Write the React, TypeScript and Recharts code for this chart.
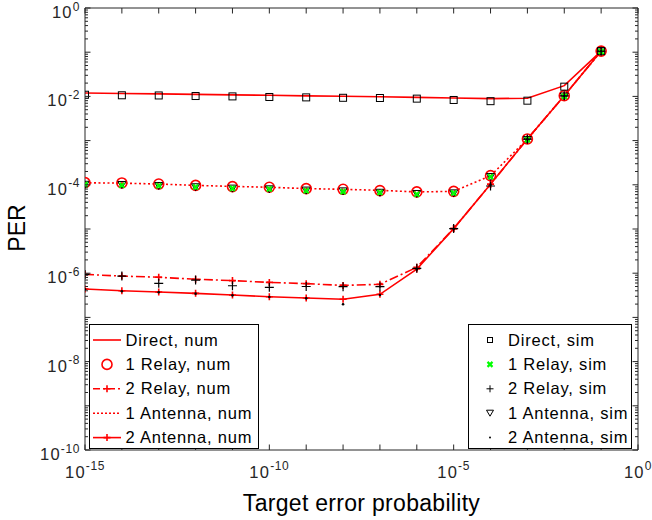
import React from "react";
import { Line, LineChart, XAxis, YAxis } from "recharts";

const RED = "#ff0000";
const GREEN = "#00ff00";
const INK = "#262626";
const FONT = '"Liberation Sans", Arial, Helvetica, sans-serif';

// target error probability (x)
const TARGET = [
  1e-15, 1e-14, 1e-13, 1e-12, 1e-11, 1e-10, 1e-9, 1e-8, 1e-7, 1e-6, 1e-5, 1e-4, 1e-3, 1e-2, 1e-1,
];

// packet error rate per scheme, numerical and simulated
const DIRECT_NUM = [
  0.0119, 0.0116, 0.0114, 0.0111, 0.0108, 0.0106, 0.0103, 0.0101, 0.0098, 0.0095, 0.0092, 0.0089, 0.0091, 0.0175, 0.106,
];
const DIRECT_SIM = [
  0.0109, 0.0106, 0.0105, 0.0102, 0.01, 0.0097, 0.0095, 0.0093, 0.0092, 0.0089, 0.0083, 0.0078, 0.008, 0.0166, 0.106,
];
const RELAY1_NUM = [
  1.12e-4, 1.1e-4, 1.04e-4, 9.7e-5, 9.1e-5, 8.8e-5, 8.2e-5, 7.9e-5, 7.4e-5, 6.9e-5, 7.1e-5, 1.61e-4, 1.09e-3, 1.04e-2, 0.106,
];
const RELAY1_SIM = [
  1.01e-4, 9.8e-5, 9.5e-5, 8.9e-5, 8.3e-5, 8.0e-5, 7.3e-5, 7.0e-5, 6.7e-5, 6.1e-5, 6.5e-5, 1.52e-4, 1.04e-3, 1.0e-2, 0.104,
];
const RELAY2_NUM = [
  9.4e-7, 8.6e-7, 8.1e-7, 7.3e-7, 6.8e-7, 6.2e-7, 5.8e-7, 5.3e-7, 5.6e-7, 1.36e-6, 1.02e-5, 1.03e-4, 1.09e-3, 1.04e-2, 0.106,
];
const RELAY2_SIM = [
  9.4e-7, 8.6e-7, 5.9e-7, 7.0e-7, 5.2e-7, 4.8e-7, 5.0e-7, 4.95e-7, 4.95e-7, 1.29e-6, 1.02e-5, 9.4e-5, 1.08e-3, 1.03e-2, 0.105,
];
const ANT1_NUM = [
  1.11e-4, 1.09e-4, 1.04e-4, 9.7e-5, 9.2e-5, 8.8e-5, 8.2e-5, 7.9e-5, 7.5e-5, 6.9e-5, 7.1e-5, 1.6e-4, 1.08e-3, 1.04e-2, 0.106,
];
const ANT1_SIM = [
  1.0e-4, 9.9e-5, 9.4e-5, 8.8e-5, 8.2e-5, 7.9e-5, 7.4e-5, 7.1e-5, 6.6e-5, 6.2e-5, 6.4e-5, 1.5e-4, 1.03e-3, 9.95e-3, 0.104,
];
const ANT2_NUM = [
  4.4e-7, 4.0e-7, 3.76e-7, 3.5e-7, 3.2e-7, 2.94e-7, 2.75e-7, 2.57e-7, 3.33e-7, 1.24e-6, 1.02e-5, 1.03e-4, 1.09e-3, 1.04e-2, 0.106,
];
const ANT2_SIM = [
  4.3e-7, 3.9e-7, 3.7e-7, 3.45e-7, 3.15e-7, 2.9e-7, 2.7e-7, 1.98e-7, 3.2e-7, 1.22e-6, 1.0e-5, 1.0e-4, 1.07e-3, 1.02e-2, 0.105,
];

const X_TICKS = [
  1e-15, 1e-14, 1e-13, 1e-12, 1e-11, 1e-10, 1e-9, 1e-8, 1e-7, 1e-6, 1e-5, 1e-4, 1e-3, 1e-2, 1e-1, 1,
];
const X_LABEL_EXP = [-15, -10, -5, 0];
const Y_MAJOR = [1e-10, 1e-9, 1e-8, 1e-7, 1e-6, 1e-5, 1e-4, 1e-3, 1e-2, 1e-1, 1];
const Y_LABEL_EXP = [-10, -8, -6, -4, -2, 0];

// log minor ticks 2..9 inside each decade
const Y_TICKS: number[] = [...Y_MAJOR];
for (let e = -10; e < 0; e++) {
  for (let k = 2; k <= 9; k++) Y_TICKS.push(k * Math.pow(10, e));
}

const rows = TARGET.map((x, i) => ({
  x,
  directNum: DIRECT_NUM[i],
  directSim: DIRECT_SIM[i],
  relay1Num: RELAY1_NUM[i],
  relay1Sim: RELAY1_SIM[i],
  relay2Num: RELAY2_NUM[i],
  relay2Sim: RELAY2_SIM[i],
  ant1Num: ANT1_NUM[i],
  ant1Sim: ANT1_SIM[i],
  ant2Num: ANT2_NUM[i],
  ant2Sim: ANT2_SIM[i],
}));

const expOf = (v: number) => Math.log10(v);
const isMajor = (v: number) => Math.abs(expOf(v) - Math.round(expOf(v))) < 1e-6;

function Pow({ x, y, exp, anchor, sup }: { x: number; y: number; exp: number; anchor: string; sup: number }) {
  return (
    <text x={x} y={y} textAnchor={anchor} fill={INK} fontFamily={FONT} fontSize={16.5} letterSpacing={1.2}>
      <tspan>10</tspan>
      <tspan dy={sup} fontSize={12} letterSpacing={0.6}>
        {String(exp)}
      </tspan>
    </text>
  );
}

// ticks point into the plot box; labels sit outside
function BottomTick(props: any) {
  const { x, y, payload } = props;
  const e = Math.round(expOf(payload.value));
  return (
    <g>
      <line x1={x} x2={x} y1={y} y2={y - 5.5} stroke={INK} />
      {X_LABEL_EXP.includes(e) && <Pow x={x} y={y + 28} exp={e} anchor="middle" sup={-8} />}
    </g>
  );
}

function TopTick(props: any) {
  const { x, y } = props;
  return <line x1={x} x2={x} y1={y} y2={y + 5.5} stroke={INK} />;
}

function LeftTick(props: any) {
  const { x, y, payload } = props;
  const major = isMajor(payload.value);
  const e = Math.round(expOf(payload.value));
  return (
    <g>
      <line x1={x} x2={x + (major ? 5.5 : 3)} y1={y} y2={y} stroke={INK} />
      {major && Y_LABEL_EXP.includes(e) && <Pow x={x - 5} y={y + 10} exp={e} anchor="end" sup={-7.5} />}
    </g>
  );
}

function RightTick(props: any) {
  const { x, y, payload } = props;
  const major = isMajor(payload.value);
  return <line x1={x} x2={x - (major ? 5.5 : 3)} y1={y} y2={y} stroke={INK} />;
}

// marker shapes
type M = { cx: number; cy: number };
const Square = ({ cx, cy }: M) => (
  <rect x={cx - 3.5} y={cy - 3.5} width={7} height={7} fill="none" stroke="#000" strokeWidth={1} />
);
const Ring = ({ cx, cy }: M) => <circle cx={cx} cy={cy} r={5} fill="none" stroke={RED} strokeWidth={1.6} />;
const GreenX = ({ cx, cy }: M) => (
  <path d={`M${cx - 2.5},${cy - 2.5}L${cx + 2.5},${cy + 2.5}M${cx - 2.5},${cy + 2.5}L${cx + 2.5},${cy - 2.5}`} stroke={GREEN} strokeWidth={2.2} />
);
const BlackPlus = ({ cx, cy }: M) => (
  <path d={`M${cx - 4.5},${cy}L${cx + 4.5},${cy}M${cx},${cy - 4.5}L${cx},${cy + 4.5}`} stroke="#000" strokeWidth={1.2} />
);
const RedPlus = ({ cx, cy }: M) => (
  <path d={`M${cx - 3.5},${cy}L${cx + 3.5},${cy}M${cx},${cy - 3.5}L${cx},${cy + 3.5}`} stroke={RED} strokeWidth={1.6} />
);
const TriDown = ({ cx, cy }: M) => (
  <path d={`M${cx - 4},${cy - 3.5}L${cx + 4},${cy - 3.5}L${cx},${cy + 3.5}Z`} fill="none" stroke="#000" strokeWidth={1} />
);
const Dot = ({ cx, cy }: M) => <circle cx={cx} cy={cy} r={1.3} fill="#000" />;

const dotWith = (Shape: (m: M) => React.ReactElement) => (p: any) => {
  if (p.cx == null || p.cy == null) return <g key={p.index} />;
  return (
    <g key={p.index}>
      <Shape cx={p.cx} cy={p.cy} />
    </g>
  );
};

type Entry = { label: string; sample: (cx: number, cy: number) => React.ReactNode };

const NUM_ENTRIES: Entry[] = [
  { label: "Direct, num", sample: (cx, cy) => <line x1={cx - 14} x2={cx + 14} y1={cy} y2={cy} stroke={RED} strokeWidth={1.6} /> },
  { label: "1 Relay, num", sample: (cx, cy) => <Ring cx={cx} cy={cy} /> },
  {
    label: "2 Relay, num",
    sample: (cx, cy) => (
      <g>
        <line x1={cx - 14} x2={cx + 14} y1={cy} y2={cy} stroke={RED} strokeWidth={1.6} strokeDasharray="7 3 2 3" />
        <RedPlus cx={cx} cy={cy} />
      </g>
    ),
  },
  { label: "1 Antenna, num", sample: (cx, cy) => <line x1={cx - 14} x2={cx + 14} y1={cy} y2={cy} stroke={RED} strokeWidth={1.6} strokeDasharray="2 2" /> },
  {
    label: "2 Antenna, num",
    sample: (cx, cy) => (
      <g>
        <line x1={cx - 14} x2={cx + 14} y1={cy} y2={cy} stroke={RED} strokeWidth={1.6} />
        <RedPlus cx={cx} cy={cy} />
      </g>
    ),
  },
];

const SIM_ENTRIES: Entry[] = [
  { label: "Direct, sim", sample: (cx, cy) => <rect x={cx - 2.5} y={cy - 2.5} width={5} height={5} fill="none" stroke="#000" /> },
  { label: "1 Relay, sim", sample: (cx, cy) => <GreenX cx={cx} cy={cy} /> },
  { label: "2 Relay, sim", sample: (cx, cy) => <path d={`M${cx - 3.5},${cy}L${cx + 3.5},${cy}M${cx},${cy - 3.5}L${cx},${cy + 3.5}`} stroke="#000" /> },
  { label: "1 Antenna, sim", sample: (cx, cy) => <path d={`M${cx - 3.5},${cy - 3}L${cx + 3.5},${cy - 3}L${cx},${cy + 3}Z`} fill="none" stroke="#000" /> },
  { label: "2 Antenna, sim", sample: (cx, cy) => <circle cx={cx} cy={cy} r={1} fill="#000" /> },
];

function LegendBox({ left, top, width, entries, sampleX, textX }: { left: number; top: number; width: number; entries: Entry[]; sampleX: number; textX: number }) {
  const height = 125;
  return (
    <svg style={{ position: "absolute", left, top, overflow: "visible" }} width={width} height={height}>
      <rect x={0.5} y={0.5} width={width - 1} height={height - 1} fill="#fff" stroke="#000" />
      {entries.map((en, i) => {
        const cy = 16 + i * 24.4;
        return (
          <g key={en.label}>
            {en.sample(sampleX, cy)}
            <text x={textX} y={cy + 5.5} fontFamily={FONT} fontSize={16.5} letterSpacing={0.8} fill="#000">
              {en.label}
            </text>
          </g>
        );
      })}
    </svg>
  );
}

export default function App() {
  const axisCommon = {
    type: "number" as const,
    scale: "log" as const,
    allowDataOverflow: true,
    interval: 0 as const,
    tickLine: false,
    tickSize: 0,
    tickMargin: 0,
    axisLine: { stroke: INK, strokeWidth: 1 },
  };
  return (
    <div style={{ position: "absolute", left: 0, top: 0, width: 652, height: 520, background: "#fff" }}>
      <LineChart width={652} height={520} data={rows} margin={{ top: 0, right: 0, bottom: 0, left: 0 }}>
        <XAxis {...axisCommon} dataKey="x" domain={[1e-15, 1]} ticks={X_TICKS} height={70} tick={<BottomTick />} />
        <XAxis {...axisCommon} xAxisId="top" orientation="top" dataKey="x" domain={[1e-15, 1]} ticks={X_TICKS} height={8} tick={<TopTick />} />
        <YAxis {...axisCommon} domain={[1e-10, 1]} ticks={Y_TICKS} width={85} tick={<LeftTick />} />
        <YAxis {...axisCommon} yAxisId="right" orientation="right" domain={[1e-10, 1]} ticks={Y_TICKS} width={14} tick={<RightTick />} />

        <Line dataKey="directNum" stroke={RED} strokeWidth={1.6} dot={false} activeDot={false} isAnimationActive={false} />
        <Line dataKey="relay2Num" stroke={RED} strokeWidth={1.6} strokeDasharray="9 3 2 3" dot={dotWith(RedPlus)} activeDot={false} isAnimationActive={false} />
        <Line dataKey="ant1Num" stroke={RED} strokeWidth={1.6} strokeDasharray="2 2.5" dot={false} activeDot={false} isAnimationActive={false} />
        <Line dataKey="ant2Num" stroke={RED} strokeWidth={1.6} dot={dotWith(RedPlus)} activeDot={false} isAnimationActive={false} />
        <Line dataKey="relay1Num" stroke="none" dot={dotWith(Ring)} activeDot={false} isAnimationActive={false} />
        <Line dataKey="directSim" stroke="none" dot={dotWith(Square)} activeDot={false} isAnimationActive={false} />
        <Line dataKey="ant1Sim" stroke="none" dot={dotWith(TriDown)} activeDot={false} isAnimationActive={false} />
        <Line dataKey="relay1Sim" stroke="none" dot={dotWith(GreenX)} activeDot={false} isAnimationActive={false} />
        <Line dataKey="relay2Sim" stroke="none" dot={dotWith(BlackPlus)} activeDot={false} isAnimationActive={false} />
        <Line dataKey="ant2Sim" stroke="none" dot={dotWith(Dot)} activeDot={false} isAnimationActive={false} />
      </LineChart>

      <LegendBox left={89} top={324} width={170} entries={NUM_ENTRIES} sampleX={18} textX={36.5} />
      <LegendBox left={468} top={324} width={164} entries={SIM_ENTRIES} sampleX={22} textX={40} />

      <svg style={{ position: "absolute", left: 0, top: 0, pointerEvents: "none" }} width={652} height={520}>
        <text x={25} y={228} transform="rotate(-90 25 228)" textAnchor="middle" fontFamily={FONT} fontSize={23} fill="#000">
          PER
        </text>
        <text x={361.5} y={511} textAnchor="middle" fontFamily={FONT} fontSize={23} letterSpacing={0.3} fill="#000">
          Target error probability
        </text>
      </svg>
    </div>
  );
}
